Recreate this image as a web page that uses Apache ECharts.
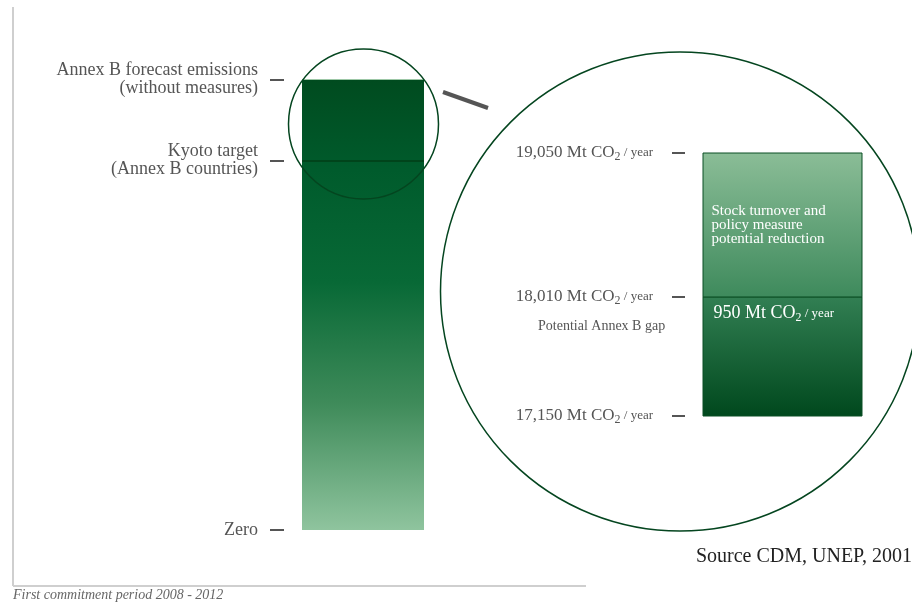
<!DOCTYPE html>
<html lang="en">
<head>
<meta charset="UTF-8">
<title>Annex B gap</title>
<style>html,body{margin:0;padding:0;background:#fff;}</style>
</head>
<body>
<div id="chart" style="width:912px;height:603px;"></div>
<script src="https://cdn.jsdelivr.net/npm/echarts@6/dist/echarts.min.js"></script>
<script>
var mainLevels = [0, 82, 100];
var mainLabels = ['Zero', 'Kyoto target\n(Annex B countries)', 'Annex B forecast emissions\n(without measures)'];
var mainBar = [100];
var kyotoLevel = 82;

// zoomed bar, Mt CO2 / year
var zoomTicks = [17150, 18010, 19050];
var zoomLow = [17150, 18010];
var zoomHigh = [18010, 19050];
var zoomNames = ['950 Mt CO{s|2}{u| / year}', 'Stock turnover and\npolicy measure\npotential reduction'];

var serif = '"Liberation Serif", "DejaVu Serif", serif';
var grey = '#555';
var ring = '#04451f';

var chart = echarts.init(document.getElementById('chart'));

function grad(stops) {
	return new echarts.graphic.LinearGradient(0, 0, 0, 1, stops);
}

var segFills = [
	grad([{offset: 0, color: '#327f53'}, {offset: 1, color: '#00481d'}]),
	grad([{offset: 0, color: '#8bbd97'}, {offset: 1, color: '#3e8a5c'}])
];

var segData = [];
for (var i = 0; i < zoomLow.length; i++) {
	segData.push([0, zoomLow[i], zoomHigh[i]]);
}

function renderSeg(params, api) {
	var lo = api.coord([0, api.value(1)]);
	var hi = api.coord([0, api.value(2)]);
	var w = api.size([1, 0])[0];
	var i = params.dataIndex;
	return {
		type: 'rect',
		shape: {x: lo[0] - w / 2, y: hi[1], width: w, height: lo[1] - hi[1]},
		style: {fill: segFills[i], stroke: '#0b4f25', lineWidth: 1},
		textContent: {
			type: 'text',
			style: {
				text: zoomNames[i],
				fill: '#fff',
				fontFamily: serif,
				fontSize: i === 0 ? 18 : 15,
				lineHeight: i === 0 ? 20 : 14,
				rich: {
					s: {fill: '#fff', fontFamily: serif, fontSize: 12, lineHeight: 12, verticalAlign: 'bottom'},
					u: {fill: '#fff', fontFamily: serif, fontSize: 13}
				}
			}
		},
		textConfig: i === 0 ? {position: [11, 7]} : {position: 'insideLeft', distance: 9}
	};
}

var option = {
	animation: false,
	title: [
		{text: 'Source CDM, UNEP, 2001', right: 0, top: 547, padding: 0,
			textStyle: {fontFamily: serif, fontSize: 20, fontWeight: 'normal', color: '#222'}},
		{text: 'First commitment period 2008 - 2012', left: 13, top: 588, padding: 0,
			textStyle: {fontFamily: serif, fontSize: 14, fontStyle: 'italic', fontWeight: 'normal', color: '#666'}}
	],
	grid: [
		{left: 302, width: 122, top: 79.5, height: 450.5},
		{left: 703, width: 159, top: 153, height: 263}
	],
	xAxis: [
		{gridIndex: 0, type: 'category', data: ['main'], show: false},
		{gridIndex: 1, type: 'category', data: ['zoom'], show: false}
	],
	yAxis: [
		{
			gridIndex: 0, type: 'value', min: 0, max: 100, offset: 18,
			splitLine: {show: false}, axisLine: {show: false},
			axisTick: {show: true, customValues: mainLevels, length: 14, lineStyle: {color: grey, width: 2}},
			axisLabel: {
				customValues: mainLevels, margin: 26, color: grey,
				fontFamily: serif, fontSize: 18, lineHeight: 18,
				formatter: function (v) { return mainLabels[mainLevels.indexOf(v)]; }
			}
		},
		{
			gridIndex: 1, type: 'value', min: 17150, max: 19050, offset: 18,
			splitLine: {show: false}, axisLine: {show: false},
			axisTick: {show: true, customValues: zoomTicks, length: 13, lineStyle: {color: grey, width: 2}},
			axisLabel: {
				customValues: zoomTicks, margin: 32, color: grey,
				fontFamily: serif, fontSize: 17, lineHeight: 20,
				formatter: function (v) { return v.toLocaleString('en-US') + ' Mt CO{s|2}{u| / year}'; },
				rich: {
					s: {color: grey, fontFamily: serif, fontSize: 12, lineHeight: 12, verticalAlign: 'bottom'},
					u: {color: grey, fontFamily: serif, fontSize: 13}
				}
			}
		}
	],
	series: [
		{
			type: 'bar', xAxisIndex: 0, yAxisIndex: 0, data: mainBar,
			barWidth: '100%',
			itemStyle: {color: grad([
				{offset: 0, color: '#004b1f'},
				{offset: 0.2, color: '#005b2c'},
				{offset: 0.45, color: '#086936'},
				{offset: 0.72, color: '#3f8b5a'},
				{offset: 1, color: '#8fc49e'}
			])},
			markLine: {
				silent: true, symbol: 'none', label: {show: false},
				data: [
					{yAxis: kyotoLevel, lineStyle: {color: '#00441b', width: 2, type: 'solid'}},
					{yAxis: 100, lineStyle: {color: '#9cc7a6', width: 1, type: 'solid'}}
				]
			}
		},
		{
			type: 'custom', xAxisIndex: 1, yAxisIndex: 1,
			data: segData, encode: {x: 0, y: [1, 2]},
			renderItem: renderSeg
		}
	],
	graphic: [
		{type: 'line', shape: {x1: 13, y1: 7, x2: 13, y2: 586}, style: {stroke: '#cfcfcf', lineWidth: 2}},
		{type: 'line', shape: {x1: 13, y1: 586, x2: 586, y2: 586}, style: {stroke: '#cfcfcf', lineWidth: 2}},
		{type: 'circle', shape: {cx: 363.5, cy: 124, r: 75}, style: {fill: 'none', stroke: ring, lineWidth: 1.5}, z: 50},
		{type: 'line', shape: {x1: 443, y1: 92, x2: 488, y2: 108}, style: {stroke: '#555', lineWidth: 4}},
		{type: 'circle', shape: {cx: 680, cy: 291.5, r: 239.5}, style: {fill: 'none', stroke: ring, lineWidth: 1.5}, z: 50},
		{type: 'text', left: 538, top: 319, style: {text: 'Potential Annex B gap', fontFamily: serif, fontSize: 14, fill: grey}}
	]
};

chart.setOption(option);
</script>
</body>
</html>
